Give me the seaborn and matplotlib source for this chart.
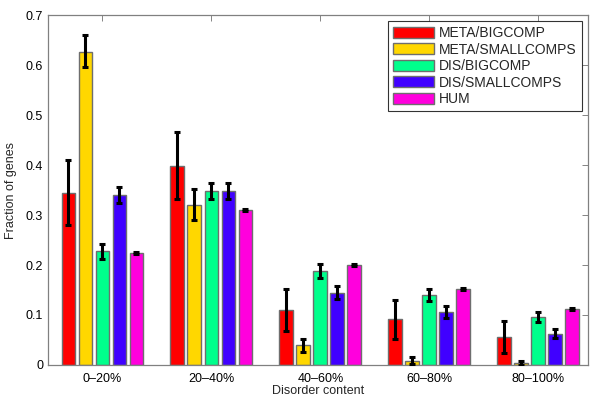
import matplotlib
matplotlib.use("Agg")
import matplotlib.pyplot as plt
import seaborn as sns
import pandas as pd
import numpy as np

categories = ["0\u201320%", "20\u201340%", "40\u201360%", "60\u201380%", "80\u2013100%"]
series = ["META/BIGCOMP", "META/SMALLCOMPS", "DIS/BIGCOMP", "DIS/SMALLCOMPS", "HUM"]

meta_big = [0.345, 0.399, 0.109, 0.091, 0.055]
meta_big_lo = [0.281, 0.333, 0.067, 0.052, 0.024]
meta_big_hi = [0.410, 0.467, 0.152, 0.131, 0.087]

meta_small = [0.627, 0.321, 0.039, 0.008, 0.003]
meta_small_lo = [0.596, 0.290, 0.025, 0.002, 0.000]
meta_small_hi = [0.660, 0.352, 0.052, 0.015, 0.008]

dis_big = [0.228, 0.348, 0.188, 0.140, 0.095]
dis_big_lo = [0.213, 0.332, 0.175, 0.128, 0.085]
dis_big_hi = [0.242, 0.365, 0.203, 0.153, 0.105]

dis_small = [0.341, 0.348, 0.145, 0.105, 0.061]
dis_small_lo = [0.325, 0.332, 0.132, 0.094, 0.053]
dis_small_hi = [0.357, 0.365, 0.158, 0.117, 0.071]

hum = [0.224, 0.311, 0.200, 0.152, 0.112]
hum_lo = [0.222, 0.309, 0.198, 0.150, 0.110]
hum_hi = [0.226, 0.313, 0.202, 0.154, 0.114]

yticks = [0, 0.1, 0.2, 0.3, 0.4, 0.5, 0.6, 0.7]
ytick_labels = ["0", "0.1", "0.2", "0.3", "0.4", "0.5", "0.6", "0.7"]

colors = ["#FF0000", "#FFD700", "#00FF8C", "#4000FF", "#FF00DD"]

vals = [meta_big, meta_small, dis_big, dis_small, hum]
los = [meta_big_lo, meta_small_lo, dis_big_lo, dis_small_lo, hum_lo]
his = [meta_big_hi, meta_small_hi, dis_big_hi, dis_small_hi, hum_hi]

rows = []
for s, v, lo, hi in zip(series, vals, los, his):
    for c, vv, l, h in zip(categories, v, lo, hi):
        rows.append(dict(cat=c, series=s, val=vv, lo=l, hi=h))
df = pd.DataFrame(rows)

sns.set_style("white")
plt.rcParams["font.family"] = ["Liberation Sans", "DejaVu Sans"]

fig = plt.figure(figsize=(6, 4.05), dpi=100)
ax = fig.add_axes([0.08, 0.0988, 0.90, 0.864])

sns.barplot(data=df, x="cat", y="val", hue="series", order=categories,
            hue_order=series, palette=colors, saturation=1, errorbar=None,
            width=0.78, gap=0.18, edgecolor="#6e6e6e", linewidth=1.0, ax=ax)

# error bars positioned on the drawn bars
for container, s in zip(ax.containers, series):
    sub = df[df.series == s].set_index("cat").loc[categories]
    xs = [p.get_x() + p.get_width() / 2 for p in container.patches]
    yerr = np.array([sub.val - sub.lo, sub.hi - sub.val])
    ax.errorbar(xs, sub.val, yerr=yerr, fmt="none", ecolor="black",
                elinewidth=2.2, capsize=2.5, capthick=2.2, zorder=5)

ax.set_xlim(-0.5, 4.455)
ax.set_ylim(0, 0.7)
ax.set_yticks(yticks)
ax.set_yticklabels(ytick_labels)
ax.set_xlabel("Disorder content", fontsize=9, labelpad=0)
ax.set_ylabel("Fraction of genes", fontsize=9, labelpad=6)
ax.tick_params(direction="in", length=4, width=0.6, labelsize=9,
               top=True, right=True, colors="#707070", labelcolor="black",
               pad=3.5)
ax.tick_params(axis="x", pad=6)
for sp in ax.spines.values():
    sp.set_color("#808080")
    sp.set_linewidth(0.9)

leg = ax.legend(loc="upper right", fontsize=10, frameon=True, fancybox=False,
                edgecolor="black", handlelength=2.95, handleheight=0.85,
                borderpad=0.35, labelspacing=0.18, handletextpad=0.4,
                borderaxespad=0.45)
leg.get_frame().set_linewidth(0.8)

fig.savefig("out.png", dpi=100)
